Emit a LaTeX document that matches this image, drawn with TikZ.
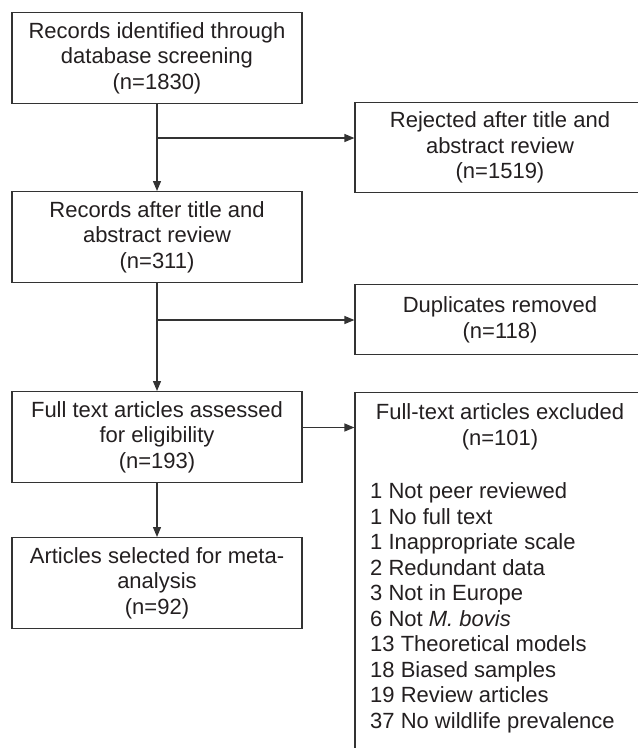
\documentclass[tikz,border=0pt]{standalone}
\usepackage{fontspec}
\setmainfont{Liberation Sans}
\usetikzlibrary{arrows.meta}
\definecolor{ink}{HTML}{231F20}
\definecolor{linec}{HTML}{333333}
\begin{document}
\begin{tikzpicture}[x=1pt,y=-1pt,
  every node/.style={text=ink, font=\fontsize{22}{25.5}\selectfont},
  box/.style={draw=linec, line width=1.2pt, minimum width=290pt, align=center, inner sep=0pt},
  arr/.style={draw=linec, line width=1.2pt, -{Triangle[length=10pt,width=8pt]}},
  ln/.style={draw=linec, line width=1.2pt}]
\useasboundingbox (0,0) rectangle (638,748);
\clip (0,0) rectangle (638,748);
% left column
\node[box, minimum height=91pt, anchor=north] (b1) at (157,12) {Records identified through\\database screening\\(n=1830)};
\node[box, minimum height=91pt, anchor=north] (b2) at (157,191) {Records after title and\\abstract review\\(n=311)};
\node[box, minimum height=91pt, anchor=north] (b3) at (157,391) {Full text articles assessed\\for eligibility\\(n=193)};
\node[box, minimum height=91pt, anchor=north] (b4) at (157,537) {Articles selected for meta-\\analysis\\(n=92)};
% right column
\node[box, minimum height=90pt, anchor=north] (rej) at (500,102) {Rejected after title and\\abstract review\\(n=1519)};
\node[box, minimum height=70pt, anchor=north] (dup) at (500,284) {Duplicates removed\\(n=118)};
\node[box, minimum height=380pt, anchor=north] (exc) at (500,392) {};
\node[align=center, inner sep=0pt] (excT) at (500,427) {Full-text articles excluded\\(n=101)};
\node[align=left, inner sep=0pt, anchor=west] (excL) at (370,608) {1 Not peer reviewed\\1 No full text\\1 Inappropriate scale\\2 Redundant data\\3 Not in Europe\\6 Not \textit{M. bovis}\\13 Theoretical models\\18 Biased samples\\19 Review articles\\37 No wildlife prevalence};
% junctions
\coordinate (j1) at (157,138);
\coordinate (j2) at (157,320);
\coordinate (j3) at (302,427.5);
% connectors
\draw[arr] (b1.south) -- (b2.north);
\draw[arr] (j1) -- (j1 -| rej.west);
\draw[arr] (b2.south) -- (b3.north);
\draw[arr] (j2) -- (j2 -| dup.west);
\draw[arr] (j3) -- (j3 -| exc.west);
\draw[arr] (b3.south) -- (b4.north);
\end{tikzpicture}
\end{document}
